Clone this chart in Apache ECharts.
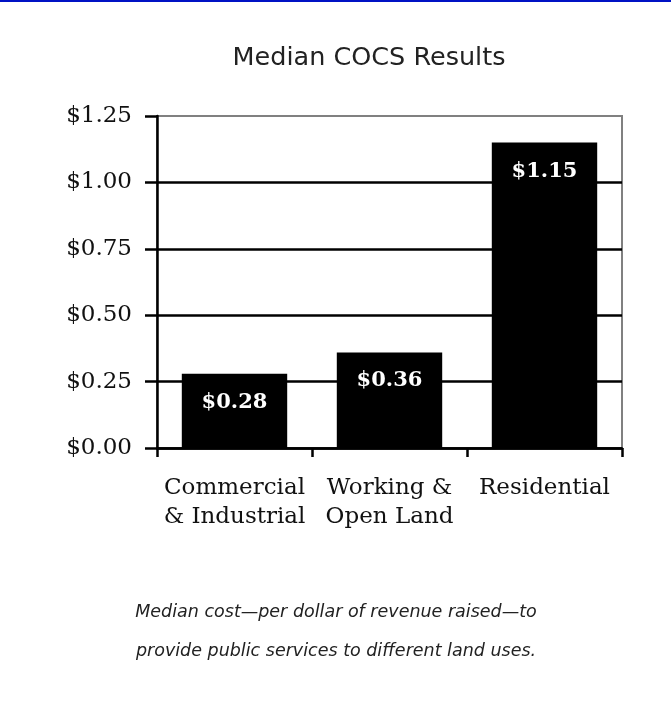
<!DOCTYPE html>
<html>
<head>
<meta charset="utf-8">
<script src="https://cdn.jsdelivr.net/npm/echarts@6/dist/echarts.min.js"></script>
<style>html,body{margin:0;padding:0;background:#fff;}#c{width:671px;height:704px;}</style>
</head>
<body>
<div id="c"></div>
<script>
var categories = ['Commercial\n& Industrial', 'Working &\nOpen Land', 'Residential'];
var values = [0.28, 0.36, 1.15];
var valueLabels = ['$0.28', '$0.36', '$1.15'];
var tickLabels = ['$0.00', '$0.25', '$0.50', '$0.75', '$1.00', '$1.25'];
var titleText = 'Median COCS Results';
var captionLines = ['Median cost\u2014per dollar of revenue raised\u2014to', 'provide public services to different land uses.'];

var chart = echarts.init(document.getElementById('c'));
chart.setOption({
  backgroundColor: '#ffffff',
  animation: false,
  title: {
    text: titleText,
    left: 364, top: 40, textAlign: 'center',
    textStyle: { fontFamily: 'DejaVu Sans', fontSize: 25.5, fontWeight: 'normal', color: '#222' }
  },
  grid: { left: 157, right: 49, top: 116, bottom: 256, show: true, borderColor: '#808080', borderWidth: 2, backgroundColor: 'transparent' },
  xAxis: {
    type: 'category',
    data: categories,
    axisLine: { show: true, lineStyle: { color: '#000', width: 2.5 } },
    axisTick: { show: true, length: 9, lineStyle: { color: '#000', width: 2.5 } },
    axisLabel: {
      margin: 26, fontFamily: 'DejaVu Serif', fontSize: 23, lineHeight: 28.5, color: '#111', interval: 0
    }
  },
  yAxis: {
    type: 'value', min: 0, max: 1.25, interval: 0.25,
    axisLine: { show: true, lineStyle: { color: '#000', width: 2.5 } },
    axisTick: { show: true, length: 12, lineStyle: { color: '#000', width: 2.5 } },
    splitLine: { show: true, showMaxLine: false, lineStyle: { color: '#000', width: 2.5 } },
    axisLabel: {
      margin: 25, fontFamily: 'DejaVu Serif', fontSize: 23, color: '#111',
      formatter: function (v) { return tickLabels[Math.round(v / 0.25)]; }
    }
  },
  series: [{
    type: 'bar',
    data: values,
    barWidth: '68%',
    itemStyle: { color: '#000' },
    label: {
      show: true, position: 'insideTop', distance: 18,
      fontFamily: 'DejaVu Serif', fontWeight: 'bold', fontSize: 21, color: '#fff',
      formatter: function (p) { return valueLabels[p.dataIndex]; }
    }
  }],
  graphic: [
    { type: 'rect', shape: { x: 0, y: 0, width: 671, height: 2 }, style: { fill: '#0012c4' } },
    { type: 'text', x: 336, y: 593, style: {
        text: captionLines.join('\n'), x: 0, y: 0, align: 'center', textAlign: 'center',
        font: 'italic 17.5px "DejaVu Sans"', lineHeight: 38.7, fill: '#222'
      } }
  ]
});
</script>
</body>
</html>
